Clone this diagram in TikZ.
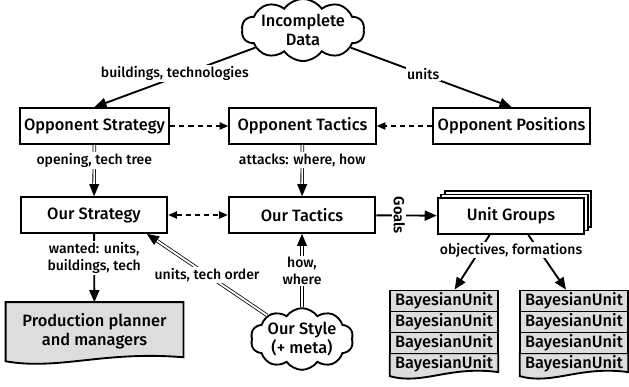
\documentclass[tikz,border=0pt]{standalone}
\usepackage{fontspec}
\setmainfont{Fira Sans}[UprightFont=* Medium, BoldFont=* SemiBold]
\usepackage{tikz}
\usetikzlibrary{arrows.meta}
\usetikzlibrary{shapes, shadows, calc, positioning, backgrounds}
\definecolor{unit_gray}{RGB}{221,221,221}

% wavy bottom for document-like nodes
\newcommand{\docoutline}[1]{%
  \begin{scope}[on background layer]
    \draw[line width=1.4pt, fill=unit_gray] (#1.north west) -- (#1.north east) -- ([yshift=2pt]#1.south east)
      .. controls ($(#1.south west)!0.55!(#1.south east)+(0,7pt)$) and ($(#1.south west)!0.3!(#1.south east)+(0,-8pt)$) .. ([yshift=-1pt]#1.south west) -- cycle;
  \end{scope}}

\begin{document}
\begin{tikzpicture}[x=0.75pt, y=-0.75pt, >={Triangle[length=9pt, width=7.5pt]},
    every node/.style={font=\fontsize{12.3}{14.5}\selectfont},
    box/.style={draw, rectangle, line width=1.4pt, fill=white, minimum width=110pt, minimum height=27pt},
    blob/.style={draw, cloud, cloud puffs=10, cloud puff arc=110, cloud ignores aspect, line width=1.4pt, align=center, inner sep=0pt},
    unitrow/.style={draw, rectangle, line width=1.4pt, fill=unit_gray, minimum width=81pt, minimum height=15.75pt, inner sep=0pt},
    lbl/.style={fill=white, inner sep=1pt, align=center, font=\fontsize{10.5}{12.5}\selectfont},
    arr/.style={->, line width=1.4pt},
    dsh/.style={line width=0.9pt, dash pattern=on 3.8pt off 3pt, >={Triangle[length=6.5pt, width=5.5pt]}},
    dbl/.style={double, double distance=1.4pt, line width=0.6pt, -{Triangle[length=9pt, width=7.5pt]}}]
  \useasboundingbox (0,0) rectangle (629,386);

  \node[blob, minimum width=92pt, minimum height=42pt] (data) at (303,30) {Incomplete\\Data};
  \node[box] (ostrat) at (94.5,126) {Opponent Strategy};
  \node[box] (otact) at (302.5,126) {Opponent Tactics};
  \node[box, minimum width=115pt] (opos) at (511.5,126) {Opponent Positions};
  \node[box] (ustrat) at (94,215) {Our Strategy};
  \node[box] (utact) at (302,215) {Our Tactics};
  \node[box, double copy shadow={shadow xshift=2.6pt, shadow yshift=2.6pt}] (ugrp) at (511,216) {Unit Groups};
  \node[minimum width=133pt, minimum height=43pt, align=center] (prod) at (94.5,331) {Production planner\\and managers};
  \docoutline{prod}
  \node[blob, minimum width=77pt, minimum height=42pt] (ustyle) at (302,339) {Our Style\\(+ meta)};

  % unit stacks
  \foreach \s/\x in {l/444, r/574} {
    \foreach \i/\y in {1/301, 2/322, 3/343}
      \node[unitrow] (b\s\i) at (\x,\y) {BayesianUnit};
    \node[minimum width=81pt, minimum height=15.75pt, inner sep=0pt] (b\s4) at (\x,364) {BayesianUnit};
    \docoutline{b\s4}
  }

  \draw[arr] (data) -- (ostrat.north) node[lbl, pos=0.5, yshift=3pt] {buildings, technologies};
  \draw[arr] (data) -- (opos.north) node[lbl, pos=0.45] {units};
  \draw[dsh, ->] (ostrat) -- (otact);
  \draw[dsh, ->] (opos) -- (otact);
  \draw[dbl] (ostrat) -- (ustrat) node[lbl, pos=0.3] {opening, tech tree};
  \draw[dbl] (otact) -- (utact) node[lbl, pos=0.3] {attacks: where, how};
  \draw[dsh, <->] (ustrat) -- (utact);
  \draw[arr] (utact) -- (ugrp) node[lbl, pos=0.38, rotate=-90, font=\fontsize{11}{12}\selectfont\bfseries] {Goals};
  \draw[arr] (ustrat) -- (prod) node[lbl, pos=0.35] {wanted: units,\\buildings, tech};
  \draw[dbl] (ustyle) -- ([xshift=-16pt]ustrat.south east) node[lbl, midway] {units, tech order};
  \draw[dbl] (ustyle) -- (utact) node[lbl, midway] {how,\\where};
  \draw[arr] ([xshift=-16pt]ugrp.south) -- ([xshift=8pt]bl1.north);
  \draw[arr] ([xshift=13pt]ugrp.south) -- ([xshift=-6pt]br1.north);
  \node[lbl] (objlbl) at (511,250) {objectives, formations};
\end{tikzpicture}
\end{document}
